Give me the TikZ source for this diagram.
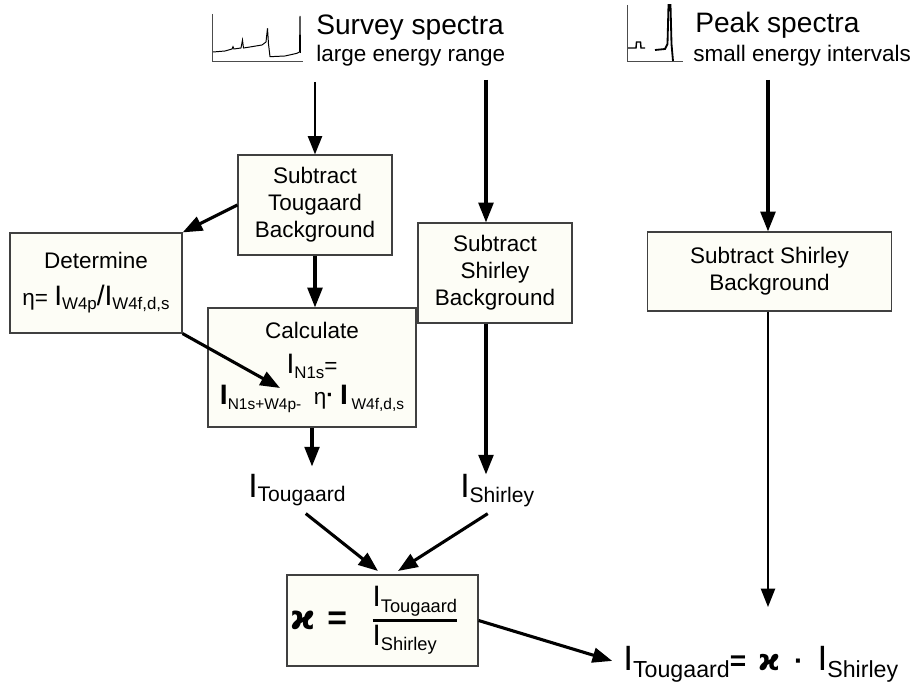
\documentclass[tikz,border=0pt]{standalone}
\usepackage{fontspec}
\setmainfont{Liberation Sans}
\newfontfamily\kappafont{DejaVu Sans}
\usepackage{amsmath,amssymb}
\usetikzlibrary{arrows.meta}
\definecolor{boxfill}{RGB}{253,253,246}
\definecolor{boxline}{RGB}{64,64,64}
\newcommand{\stepfont}{\fontsize{16pt}{19.2pt}\selectfont}
\newcommand{\titlefont}{\fontsize{20pt}{24pt}\selectfont}
% big I with a lowered subscript: size of I, size of subscript, shift, text
\newcommand{\Isub}[4]{{\fontsize{#1}{#1}\selectfont I}\raisebox{#3}{\fontsize{#2}{#2}\selectfont #4}}
\newcommand{\kap}[1]{{\fontsize{#1}{#1}\kappafont\bfseries ϰ}}
\tikzset{
  stepbox/.style={draw=boxline, fill=boxfill, line width=0.8pt, rectangle, align=center, inner sep=0pt, font=\stepfont},
  flow/.style={-{Triangle[length=14pt,width=10.5pt]}, line width=2.2pt},
  flowthin/.style={-{Triangle[length=13pt,width=10pt]}, line width=1.4pt},
}
\begin{document}
\begin{tikzpicture}[x=0.025cm, y=-0.025cm]
\useasboundingbox (0,0) rectangle (915,688);

% spectra icons
\draw[line width=0.5pt, black!70] (212.7,14) -- (212.7,61.7) -- (303,61.7);
\draw[line width=0.7pt] (213,52) -- (225,51) -- (232,49) -- (233,46.7) -- (234,49) -- (241,48) -- (242.5,40) -- (243.5,48) -- (250,47) -- (262,45) -- (266,42) -- (267.5,28.3) -- (268.5,44) -- (270,56.7) -- (285,56) -- (297,53.3) -- (299.5,52) -- (300,16) -- (300.5,53);
\draw[line width=0.5pt, black!70] (627,5) -- (627,61) -- (683,61);
\draw[line width=1pt] (628,48) -- (636,48) -- (636.5,42) -- (640.5,42) -- (641,48) -- (645,48);
\draw[line width=1.3pt] (655,50) -- (665,49) -- (667.5,44) -- (668.5,5) -- (670.5,5) -- (671.5,44) -- (673,61);

% titles
\node[anchor=base west, font=\titlefont, inner sep=0pt] (survey) at (316,35) {Survey spectra};
\node[anchor=base west, font=\stepfont, inner sep=0pt] (surveysub) at (316,62) {large energy range};
\node[anchor=base west, font=\titlefont, inner sep=0pt] (peak) at (695,33) {Peak spectra};
\node[anchor=base west, font=\stepfont, inner sep=0pt] (peaksub) at (693,62) {small energy intervals};

% boxes
\node[stepbox, minimum width=3.85cm, minimum height=2.5cm] (tougaard) at (315,205) {Subtract\\Tougaard\\Background};
\node[stepbox, minimum width=4.3cm, minimum height=2.5cm] (determine) at (96,283)
  {Determine\\[7pt]η= \Isub{20pt}{12pt}{-3pt}{W4p}{\fontsize{20pt}{20pt}\selectfont /}\Isub{20pt}{12pt}{-3pt}{W4f,d,s}};
\node[stepbox, minimum width=5.2cm, minimum height=2.975cm] (calculate) at (312,367.5)
  {Calculate\\[5.7pt]\Isub{20pt}{12pt}{-3pt}{N1s}=\\[2.8pt]{\bfseries\Isub{20pt}{11pt}{-3pt}{\mdseries N1s+W4p-}}\ \ η\raisebox{2pt}{\textbf{·}}\ {\fontsize{20pt}{20pt}\selectfont\bfseries I}\,\raisebox{-3pt}{\fontsize{11pt}{11pt}\selectfont W4f,d,s}};
\node[stepbox, minimum width=3.85cm, minimum height=2.5cm] (shirleyA) at (495,273) {Subtract\\Shirley\\Background};
\node[stepbox, minimum width=6.1cm, minimum height=1.975cm] (shirleyB) at (769.5,271.5) {Subtract Shirley\\Background};
\node[stepbox, minimum width=4.775cm, minimum height=2.275cm] (kappa) at (382.5,620.5)
  {{\fontsize{24pt}{24pt}\selectfont\kap{24pt}\hspace{0.3cm}\textbf{=}\hspace{0.6cm}$\genfrac{}{}{2pt}{1}{\text{\Isub{21pt}{13pt}{-4pt}{Tougaard}}}{\text{\rlap{\Isub{21pt}{13pt}{-4pt}{Shirley}}\phantom{\Isub{21pt}{13pt}{-4pt}{Tougaard}}}}$}\hspace{0.4cm}};

% intensities
\node[anchor=base west, inner sep=0pt] (Itoug) at (248,497) {\Isub{24pt}{15pt}{-3.5pt}{Tougaard}};
\node[anchor=base west, inner sep=0pt] (Ishir) at (460,498) {\Isub{24pt}{15pt}{-3.5pt}{Shirley}};
\node[anchor=base west, inner sep=0pt] (final) at (623,670)
  {\Isub{25pt}{16.5pt}{-5.5pt}{Tougaard}{\fontsize{20pt}{20pt}\selectfont\bfseries =}\hspace{0.3cm}\kap{21pt}\hspace{0.35cm}{\fontsize{20pt}{20pt}\selectfont\bfseries ·}\hspace{0.35cm}\Isub{25pt}{16.5pt}{-5.5pt}{Shirley}};

\coordinate (s1) at (315,82);
\coordinate (s2) at (486,80);
\coordinate (p1) at (768,80);
\coordinate (p2) at (768,607);
\coordinate (calcin) at (280,388);
\coordinate (k1) at (378,571);
\coordinate (k2) at (398,571);

% arrows
\draw[flowthin] (s1) -- (tougaard.north);
\draw[flow] (s2) -- (s2 |- shirleyA.north);
\draw[flow] (p1) -- (p1 |- shirleyB.north);
\draw[flow] (tougaard.west) -- (determine.north east);
\draw[flow] (tougaard.south) -- (tougaard.south |- calculate.north);
\draw[flow] (determine.south east) -- (calcin);
\draw[flow, shorten >=5pt] (calculate.south) -- (calculate.south |- Itoug.north);
\draw[flow] (s2 |- shirleyA.south) -- (s2 |- Ishir.north);
\draw[flow, shorten <=8pt] (Itoug.south) -- (k1);
\draw[flow, shorten <=8pt] (Ishir.south) -- (k2);
\draw[flow, shorten >=8pt] (kappa.east) -- (final.west);
\draw[flowthin] (p1 |- shirleyB.south) -- (p2);
\end{tikzpicture}
\end{document}
